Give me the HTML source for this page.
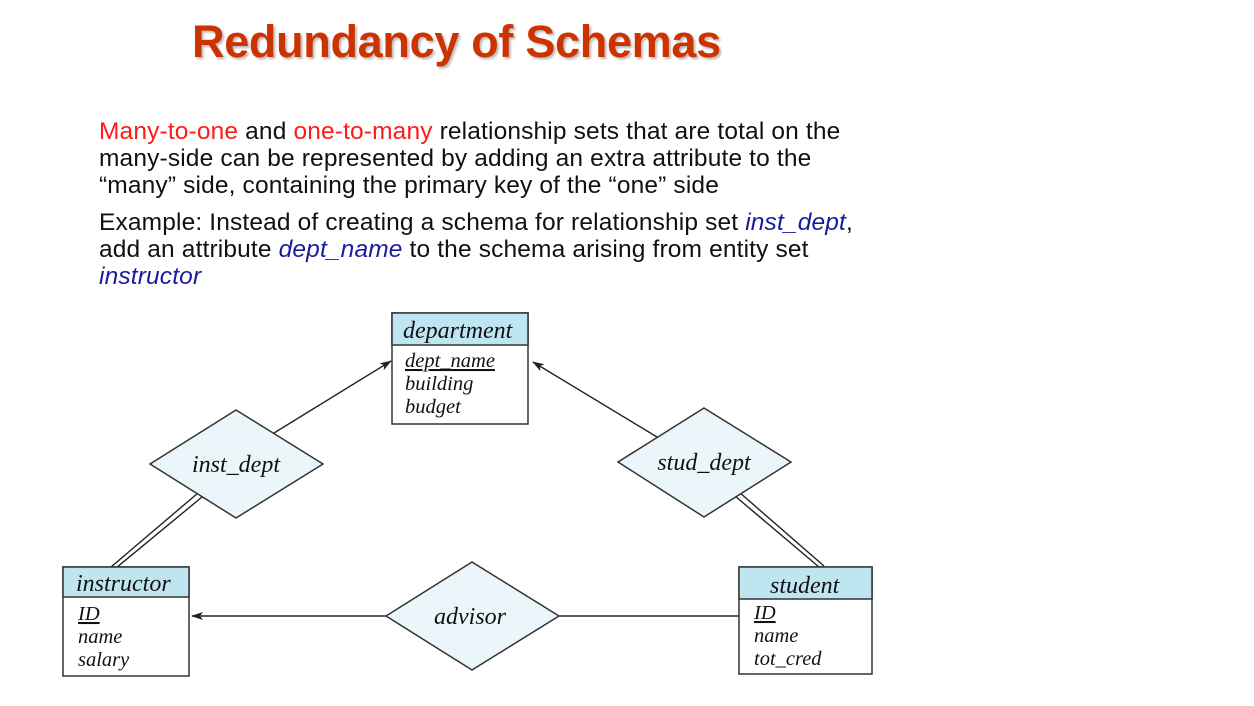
<!DOCTYPE html>
<html><head><meta charset="utf-8"><style>
body{margin:0;width:1254px;height:706px;background:#fff;position:relative;overflow:hidden;font-family:"Liberation Sans",sans-serif}
h1{position:absolute;left:192px;top:16px;margin:0;font-size:45px;font-weight:bold;color:#cc3300;text-shadow:2px 2px 2px #bbb;letter-spacing:-0.3px}
.p{position:absolute;left:99px;font-size:24.5px;line-height:27px;color:#111;margin:0;white-space:nowrap;letter-spacing:0.15px}
.r{color:#ff1a1a}.b{color:#1a1aa0;font-style:italic}
</style></head><body>
<h1>Redundancy of Schemas</h1>
<p class="p" style="top:118px"><span class="r">Many-to-one</span> and <span class="r">one-to-many</span> relationship sets that are total on the<br>many-side can be represented by adding an extra attribute to the<br>“many” side, containing the primary key of the “one” side</p>
<p class="p" style="top:209px">Example: Instead of creating a schema for relationship set <span class="b">inst_dept</span>,<br>add an attribute <span class="b">dept_name</span> to the schema arising from entity set<br><span class="b">instructor</span></p>
<svg width="1254" height="706" style="position:absolute;left:0;top:0" font-family="Liberation Serif,serif" font-style="italic">
<defs><marker id="a" markerWidth="12" markerHeight="8" refX="11" refY="4" orient="auto" markerUnits="userSpaceOnUse"><path d="M0,0 L12,4 L0,8 L3,4z" fill="#222"/></marker></defs>
<g stroke="#222" stroke-width="1.4" fill="none">
<line x1="274" y1="433" x2="391" y2="361" marker-end="url(#a)"/>
<line x1="657" y1="437" x2="533" y2="362" marker-end="url(#a)"/>
<line x1="386" y1="616" x2="192" y2="616" marker-end="url(#a)"/>
<line x1="559" y1="616" x2="739" y2="616"/>
<line x1="198" y1="493" x2="111" y2="567"/><line x1="202" y1="497" x2="116" y2="568"/>
<line x1="735" y1="496" x2="819" y2="567"/><line x1="739" y1="492" x2="824" y2="566"/>
</g>
<g stroke="#333" stroke-width="1.5">
<polygon points="150,464 236,410 323,464 236,518" fill="#eaf6fa"/>
<polygon points="618,462 704,408 791,462 704,517" fill="#eaf6fa"/>
<polygon points="386,616 472,562 559,616 472,670" fill="#eaf6fa"/>
<rect x="392" y="313" width="136" height="111" fill="#fff"/><rect x="392" y="313" width="136" height="32" fill="#bfe6f0"/>
<rect x="63" y="567" width="126" height="109" fill="#fff"/><rect x="63" y="567" width="126" height="30" fill="#bfe6f0"/>
<rect x="739" y="567" width="133" height="107" fill="#fff"/><rect x="739" y="567" width="133" height="32" fill="#bfe6f0"/>
</g>
<g fill="#111" font-size="24">
<text x="236" y="472" text-anchor="middle">inst_dept</text>
<text x="704" y="470" text-anchor="middle">stud_dept</text>
<text x="470" y="624" text-anchor="middle">advisor</text>
<text x="403" y="338">department</text>
<text x="76" y="591">instructor</text>
<text x="770" y="593">student</text>
</g>
<g fill="#111" font-size="20.5">
<text x="405" y="367" text-decoration="underline">dept_name</text>
<text x="405" y="390">building</text>
<text x="405" y="413">budget</text>
<text x="78" y="620" text-decoration="underline">ID</text>
<text x="78" y="643">name</text>
<text x="78" y="666">salary</text>
<text x="754" y="619" text-decoration="underline">ID</text>
<text x="754" y="642">name</text>
<text x="754" y="665">tot_cred</text>
</g>
</svg>
</body></html>
